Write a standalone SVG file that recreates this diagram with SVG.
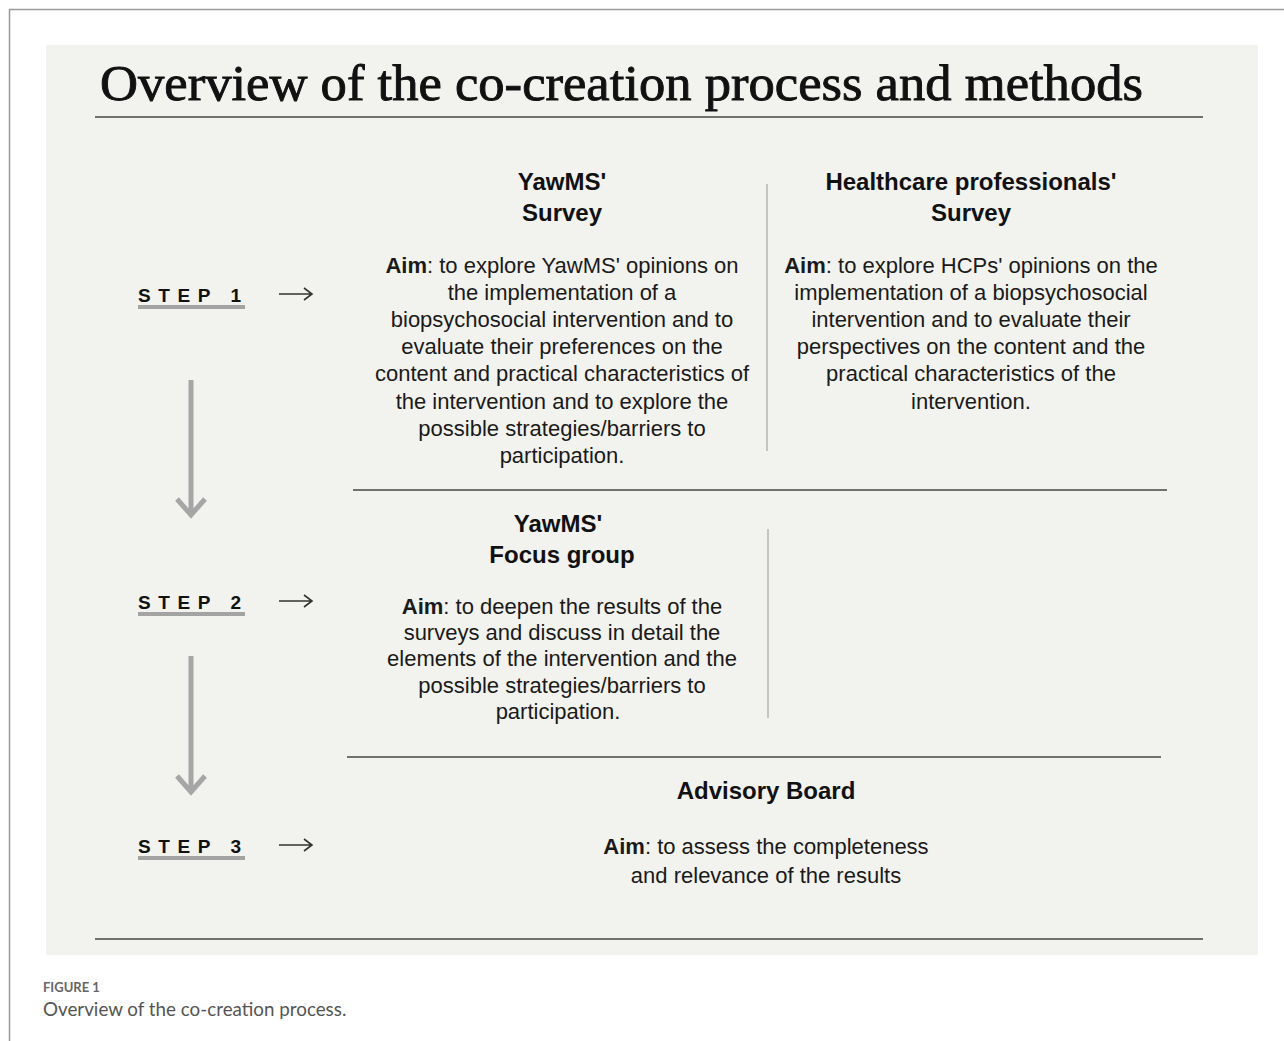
<svg xmlns="http://www.w3.org/2000/svg" width="1284" height="1041" viewBox="0 0 1284 1041">
<style>
.frame{stroke:#9a9a9a;stroke-width:1.5;fill:none}
.rule{stroke:#444;stroke-width:1.5}
.div{stroke:#c4c4c0;stroke-width:2}
.h{font-family:"Liberation Sans",Arial,sans-serif;font-weight:bold;font-size:24px;fill:#111;text-anchor:middle}
.b{font-family:"Liberation Sans",Arial,sans-serif;font-size:22px;fill:#1a1a1a;text-anchor:middle}
.b tspan.k{font-weight:bold}
.step{font-family:"Liberation Sans",Arial,sans-serif;font-weight:bold;font-size:19px;fill:#111;letter-spacing:7.6px}
.ul{stroke:#a3a3a3;stroke-width:4}
.sa{stroke:#333;stroke-width:1.6;fill:none}
.va{stroke:#a6a6a6;stroke-width:5;fill:none}
</style>
<rect x="0" y="0" width="1284" height="1041" fill="#fff"/>
<path class="frame" d="M9.5 1041 V9.5 H1284"/>
<rect x="46" y="45" width="1212" height="910" fill="#f2f2ee"/>
<text x="100" y="100" font-family="'Liberation Serif','DejaVu Serif',serif" font-size="50" fill="#111" stroke="#111" stroke-width="0.9" textLength="1043" lengthAdjust="spacingAndGlyphs">Overview of the co-creation process and methods</text>
<line class="rule" x1="95" y1="117" x2="1203" y2="117"/>
<g id="steps">
<g id="step1"><text class="step" x="138" y="302">STEP 1</text><line class="ul" x1="138" y1="307" x2="245" y2="307"/></g>
<g id="step2"><text class="step" x="138" y="609">STEP 2</text><line class="ul" x1="138" y1="614" x2="245" y2="614"/></g>
<g id="step3"><text class="step" x="138" y="853">STEP 3</text><line class="ul" x1="138" y1="858" x2="245" y2="858"/></g>
</g>
<g id="connectors">
<path class="sa" d="M279 294 H312 M304 288 L312 294 L304 300"/>
<path class="sa" d="M279 601 H312 M304 595 L312 601 L304 607"/>
<path class="sa" d="M279 845 H312 M304 839 L312 845 L304 851"/>
<path class="va" d="M191 380 V516 M177 499 L191 515 L205 499"/>
<path class="va" d="M191 656 V793 M177 776 L191 792 L205 776"/>
</g>
<g id="dividers">
<line class="rule" x1="353" y1="490" x2="1167" y2="490"/>
<line class="rule" x1="347" y1="757" x2="1161" y2="757"/>
<line class="rule" x1="95" y1="939" x2="1203" y2="939"/>
<line class="div" x1="767" y1="184" x2="767" y2="451"/>
<line class="div" x1="768" y1="529" x2="768" y2="718"/>
</g>
<g id="yawms-survey">
<text class="h" x="562" y="190">YawMS'</text>
<text class="h" x="562" y="221">Survey</text>
<text class="b"><tspan x="562" y="273"><tspan class="k">Aim</tspan>: to explore YawMS' opinions on</tspan><tspan x="562" y="300">the implementation of a</tspan><tspan x="562" y="327">biopsychosocial intervention and to</tspan><tspan x="562" y="354">evaluate their preferences on the</tspan><tspan x="562" y="381">content and practical characteristics of</tspan><tspan x="562" y="409">the intervention and to explore the</tspan><tspan x="562" y="436">possible strategies/barriers to</tspan><tspan x="562" y="463">participation.</tspan></text>
</g>
<g id="hcp-survey">
<text class="h" x="971" y="190">Healthcare professionals'</text>
<text class="h" x="971" y="221">Survey</text>
<text class="b"><tspan x="971" y="273"><tspan class="k">Aim</tspan>: to explore HCPs' opinions on the</tspan><tspan x="971" y="300">implementation of a biopsychosocial</tspan><tspan x="971" y="327">intervention and to evaluate their</tspan><tspan x="971" y="354">perspectives on the content and the</tspan><tspan x="971" y="381">practical characteristics of the</tspan><tspan x="971" y="409">intervention.</tspan></text>
</g>
<g id="focus-group">
<text class="h" x="558" y="532">YawMS'</text>
<text class="h" x="562" y="563">Focus group</text>
<text class="b"><tspan x="562" y="614"><tspan class="k">Aim</tspan>:  to deepen the results of the</tspan><tspan x="562" y="640">surveys and discuss in detail the</tspan><tspan x="562" y="666">elements of the intervention and the</tspan><tspan x="562" y="693">possible strategies/barriers to</tspan><tspan x="558" y="719">participation.</tspan></text>
</g>
<g id="advisory-board">
<text class="h" x="766" y="799">Advisory Board</text>
<text class="b"><tspan x="766" y="854"><tspan class="k">Aim</tspan>: to assess the completeness</tspan><tspan x="766" y="883">and relevance of the results</tspan></text>
</g>
<text x="43" y="992" font-family="Lato,'Liberation Sans',sans-serif" font-weight="bold" font-size="13" fill="#666">FIGURE 1</text>
<text x="43" y="1016" font-family="Lato,'Liberation Sans',sans-serif" font-size="18.8" fill="#555">Overview of the co-creation process.</text>
</svg>
